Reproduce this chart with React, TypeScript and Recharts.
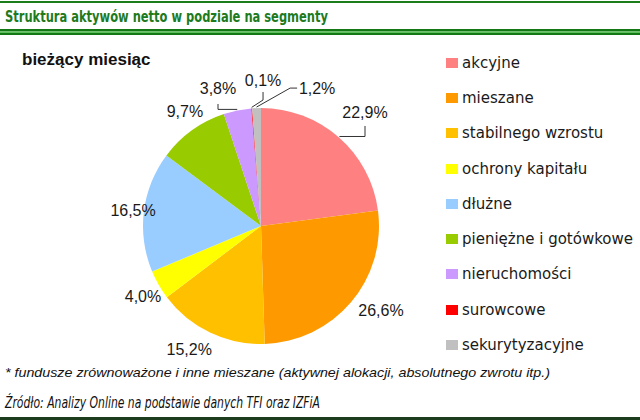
import React from 'react';
import { PieChart, Pie, Cell, Legend } from 'recharts';

const categories = [
  'akcyjne',
  'mieszane',
  'stabilnego wzrostu',
  'ochrony kapitału',
  'dłużne',
  'pieniężne i gotówkowe',
  'nieruchomości',
  'surowcowe',
  'sekurytyzacyjne',
];
const shares = [22.9, 26.6, 15.2, 4.0, 16.5, 9.7, 3.8, 0.1, 1.2];
const colors = ['#FF8080', '#FF9900', '#FFC000', '#FFFF00', '#99CCFF', '#99CC00', '#CC99FF', '#FF0000', '#C0C0C0'];

const titleText = 'Struktura aktywów netto w podziale na segmenty';
const subtitleText = 'bieżący miesiąc';
const noteText = '* fundusze zrównoważone i inne mieszane (aktywnej alokacji, absolutnego zwrotu itp.)';
const sourceText = 'Źródło: Analizy Online na podstawie danych TFI oraz IZFiA';

// label placement: distance from centre and angular shift (degrees, clockwise)
const labelDist = [153.6, 146.5, 142.5, 137.2, 128.9, 137.8, 143.6, 146, 148.9];
const labelShift = [1.4, -5.3, 4.7, -0.8, 0, 2.3, -5.9, 5.3, 24.3];

const data = categories.map((name, i) => ({ name, value: shares[i] }));

const RAD = Math.PI / 180;
const fmt = (v: number) => v.toFixed(1).replace('.', ',') + '%';

const renderLabel = (props: any) => {
  const { cx, cy, midAngle, outerRadius, index, value } = props;
  const theta = 90 - midAngle; // clockwise from top
  const t = (theta + labelShift[index]) * RAD;
  const tx = cx + labelDist[index] * Math.sin(t);
  const ty = cy - labelDist[index] * Math.cos(t);
  const e = theta * RAD;
  const ex = cx + (outerRadius + 1) * Math.sin(e);
  const ey = cy - (outerRadius + 1) * Math.cos(e);
  let pts: number[][] | null = null;
  if (index === 0) pts = [[ex, ey], [tx, ey], [tx, ty + 13]];
  if (index === 6) pts = [[ex, ey], [tx, ey], [tx, ty + 15]];
  if (index === 7) pts = [[ex, ey], [tx, ty + 20], [tx, ty + 12]];
  if (index === 8) pts = [[ex, ey], [tx - 27, ty], [tx - 20, ty]];
  return (
    <g key={`lbl-${index}`}>
      {pts && (
        <polyline
          points={pts.map((p) => p.join(',')).join(' ')}
          fill="none"
          stroke="#333"
          strokeWidth={1}
        />
      )}
      <text
        x={tx}
        y={ty}
        textAnchor="middle"
        dominantBaseline="central"
        fontFamily="'Liberation Sans', Arial, sans-serif"
        fontSize={16}
        fill="#1a1a1a"
      >
        {fmt(value)}
      </text>
    </g>
  );
};

const renderLegend = (props: any) => {
  const items = [...(props.payload || [])].sort(
    (a: any, b: any) => categories.indexOf(a.value) - categories.indexOf(b.value)
  );
  return (
    <div style={{ display: 'flex', flexDirection: 'column' }}>
      {items.map((entry: any, i: number) => (
        <div
          key={`leg-${i}`}
          style={{
            height: 35.3,
            display: 'flex',
            alignItems: 'center',
            fontFamily: "'DejaVu Sans', Verdana, sans-serif",
            fontSize: 15,
            color: '#1a1a1a',
            whiteSpace: 'nowrap',
          }}
        >
          <span
            style={{
              display: 'inline-block',
              width: 12,
              height: 10,
              background: entry.color,
              marginRight: 4,
            }}
          />
          <span>{entry.value}</span>
        </div>
      ))}
    </div>
  );
};

export default function App() {
  return (
    <div
      style={{
        position: 'absolute',
        left: 0,
        top: 0,
        width: 640,
        height: 420,
        background: '#fff',
        overflow: 'hidden',
      }}
    >
      <svg
        width={640}
        height={420}
        style={{ position: 'absolute', left: 0, top: 0, pointerEvents: 'none' }}
      >
        <rect x={0} y={1} width={640} height={2} fill="#1a7d1a" />
        <text
          x={5}
          y={22}
          fontFamily="'DejaVu Sans Condensed', 'DejaVu Sans', sans-serif"
          fontWeight="bold"
          fontSize={16.5}
          fill="#1e7a1e"
          textLength={323}
          lengthAdjust="spacingAndGlyphs"
        >
          {titleText}
        </text>
        <rect x={0} y={29} width={640} height={2.5} fill="#147814" />
        <rect x={0} y={31.5} width={640} height={1.5} fill="#5cc05c" />
        <rect x={0} y={33} width={640} height={2} fill="#147814" />
        <text
          x={22}
          y={65}
          fontFamily="'Liberation Sans', Arial, sans-serif"
          fontWeight="bold"
          fontSize={17}
          fill="#111"
        >
          {subtitleText}
        </text>
        <text
          x={5}
          y={377}
          fontFamily="'Liberation Sans', Arial, sans-serif"
          fontStyle="italic"
          fontSize={13}
          fill="#111"
          textLength={545}
          lengthAdjust="spacingAndGlyphs"
        >
          {noteText}
        </text>
        <text
          x={5}
          y={408}
          fontFamily="'DejaVu Sans Condensed', 'DejaVu Sans', sans-serif"
          fontStyle="italic"
          fontSize={15.5}
          fill="#111"
          textLength={315}
          lengthAdjust="spacingAndGlyphs"
        >
          {sourceText}
        </text>
        <rect x={0} y={417} width={640} height={3} fill="#1e3d1e" />
      </svg>
      <div style={{ position: 'absolute', left: 0, top: 0 }}>
        <PieChart width={640} height={420}>
          <Pie
            data={data}
            dataKey="value"
            nameKey="name"
            cx={256}
            cy={221}
            outerRadius={118}
            startAngle={90}
            endAngle={-270}
            stroke="none"
            label={renderLabel}
            labelLine={false}
            isAnimationActive={false}
          >
            {data.map((d, i) => (
              <Cell key={`c-${i}`} fill={colors[i]} />
            ))}
          </Pie>
          <Legend
            layout="vertical"
            content={renderLegend}
            wrapperStyle={{ position: 'absolute', left: 446, top: 45, width: 194 }}
          />
        </PieChart>
      </div>
    </div>
  );
}
